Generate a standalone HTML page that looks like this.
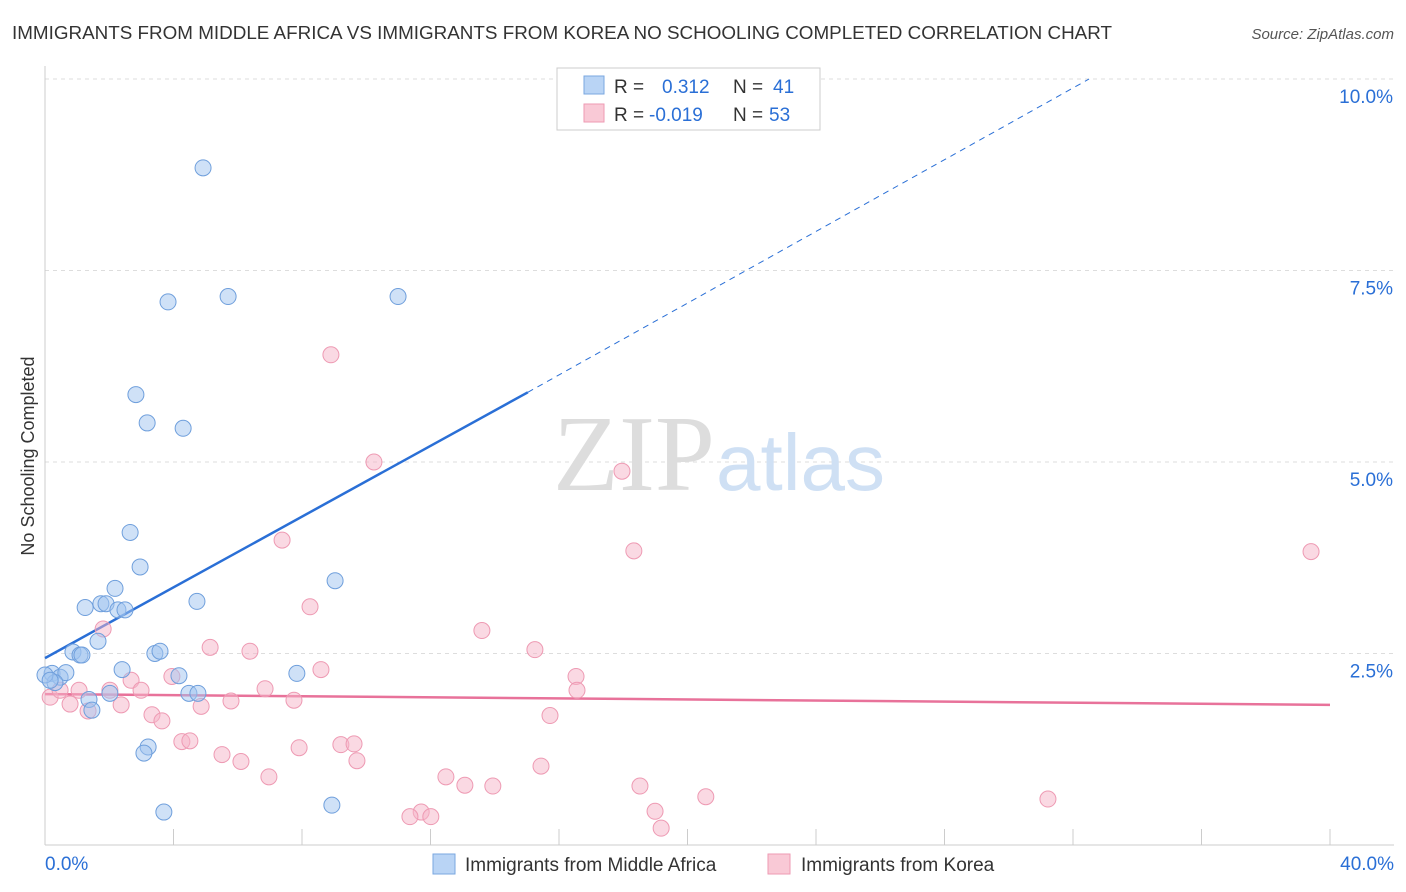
<!DOCTYPE html>
<html><head><meta charset="utf-8"><style>
body{margin:0;background:#fff;font-family:"Liberation Sans",sans-serif;}
svg{display:block}
</style></head><body>
<svg id="chart" width="1406" height="892">
<text x="12" y="39" font-size="18" fill="#333" textLength="1100" lengthAdjust="spacingAndGlyphs">IMMIGRANTS FROM MIDDLE AFRICA VS IMMIGRANTS FROM KOREA NO SCHOOLING COMPLETED CORRELATION CHART</text>
<text x="1394" y="39" font-size="15" fill="#555" font-style="italic" text-anchor="end">Source: ZipAtlas.com</text>
<text x="34" y="456" font-size="18" fill="#333" text-anchor="middle" transform="rotate(-90 34 456)">No Schooling Completed</text>
<g id="grid"></g>
<text x="715" y="490" font-size="108" fill="#ddd" text-anchor="end" font-family="Liberation Serif">ZIP</text>
<text x="716" y="490" font-size="80" fill="#cfe0f4">atlas</text>
<g id="lines"></g>
<g id="points"></g>
<g>
<rect x="557" y="68" width="263" height="62" fill="#fff" stroke="#ccc"/>
<rect x="584" y="76" width="20" height="18" fill="#b9d4f5" stroke="#7aa7e0"/>
<rect x="584" y="104" width="20" height="18" fill="#f9c9d6" stroke="#ee9ab3"/>
<text x="614" y="93" font-size="19" fill="#333">R = </text><text x="662" y="93" font-size="19" fill="#2a6fd6">0.312</text>
<text x="733" y="93" font-size="19" fill="#333">N = </text><text x="773" y="93" font-size="19" fill="#2a6fd6">41</text>
<text x="614" y="121" font-size="19" fill="#333">R = </text><text x="649" y="121" font-size="19" fill="#2a6fd6">-0.019</text>
<text x="733" y="121" font-size="19" fill="#333">N = </text><text x="769" y="121" font-size="19" fill="#2a6fd6">53</text>
</g>
<g>
<rect x="433" y="854" width="22" height="20" fill="#b9d4f5" stroke="#7aa7e0"/>
<text x="465" y="871" font-size="19" fill="#333">Immigrants from Middle Africa</text>
<rect x="768" y="854" width="22" height="20" fill="#f9c9d6" stroke="#ee9ab3"/>
<text x="801" y="871" font-size="19" fill="#333">Immigrants from Korea</text>
</g>
</svg>
<script>
const blueX=[4.92,3.83,5.70,10.99,2.83,3.18,4.30,2.65,2.96,2.18,1.25,1.74,1.90,2.27,2.49,4.73,9.03,0.87,1.09,1.15,1.65,3.42,3.58,2.40,4.17,7.84,0.22,0.47,0.65,0.31,0.0,2.02,1.37,1.46,4.48,4.76,3.21,3.08,3.70,8.93,0.16];
const blueY=[8.84,7.09,7.16,7.16,5.88,5.51,5.44,4.08,3.63,3.35,3.10,3.15,3.15,3.07,3.07,3.18,3.45,2.52,2.48,2.48,2.66,2.50,2.53,2.29,2.21,2.24,2.24,2.19,2.25,2.12,2.22,1.98,1.90,1.76,1.98,1.98,1.28,1.20,0.43,0.52,2.15];
const pinkX=[8.90,10.24,17.96,18.33,39.41,7.38,8.25,13.60,1.81,5.14,6.38,15.25,8.59,16.53,16.56,3.95,2.68,1.06,2.02,2.99,6.85,7.75,0.16,0.47,0.78,1.34,2.37,4.86,5.79,3.33,3.64,4.26,4.51,5.51,6.10,7.91,9.21,9.62,9.71,15.72,15.44,6.97,12.48,13.07,13.94,18.52,20.57,31.22,11.71,11.36,12.01,18.99,19.18];
const pinkY=[6.40,5.00,4.88,3.84,3.83,3.98,3.11,2.80,2.82,2.58,2.53,2.55,2.29,2.20,2.02,2.20,2.15,2.02,2.02,2.02,2.04,1.89,1.93,2.02,1.84,1.75,1.83,1.81,1.88,1.70,1.62,1.35,1.36,1.18,1.09,1.27,1.31,1.32,1.10,1.69,1.03,0.89,0.89,0.78,0.77,0.77,0.63,0.60,0.43,0.37,0.37,0.44,0.22];
const yTicks=[2.5,5.0,7.5,10.0];
const xs=v=>45+v*32.125, ys=v=>845-v*76.6;
const NS="http://www.w3.org/2000/svg";
function mk(tag,attrs,parent,text){const e=document.createElementNS(NS,tag);for(const k in attrs)e.setAttribute(k,attrs[k]);if(text!==undefined)e.textContent=text;document.getElementById(parent).appendChild(e);return e;}
yTicks.forEach(t=>{
 const l=mk('line',{x1:45,x2:1394,y1:ys(t),y2:ys(t),stroke:'#ddd','stroke-dasharray':'4,4'},'grid');
 
 
 const tx=mk('text',{x:1393,y:ys(t)+24,'font-size':19,fill:'#2a6fd6','text-anchor':'end'},'grid',t.toFixed(1)+'%');
 
 
});
mk('line',{x1:45,x2:45,y1:66,y2:845,stroke:'#ccc'},'grid');
mk('line',{x1:45,x2:1394,y1:845,y2:845,stroke:'#ccc'},'grid');
for(let i=0;i<=10;i++){mk('line',{x1:xs(i*4),x2:xs(i*4),y1:829,y2:845,stroke:'#ccc'},'grid');}
const x0=mk('text',{x:45,y:870,'font-size':19,fill:'#2a6fd6'},'grid','0.0%');


const x1=mk('text',{x:1394,y:870,'font-size':19,fill:'#2a6fd6','text-anchor':'end'},'grid','40.0%');


const bl=mk('line',{x1:xs(0),y1:ys(2.44),x2:xs(15.03),y2:ys(5.91),stroke:'#2a6fd6','stroke-width':2.5},'lines');


const bd=mk('line',{x1:xs(15.03),y1:ys(5.91),x2:xs(32.5),y2:ys(10.0),stroke:'#2a6fd6','stroke-width':1,'stroke-dasharray':'6,5'},'lines');


const pl=mk('line',{x1:xs(0),y1:ys(1.97),x2:xs(40),y2:ys(1.83),stroke:'#e8729a','stroke-width':2.5},'lines');


pinkX.forEach((v,i)=>{const c=mk('circle',{cx:xs(v),cy:ys(pinkY[i]),r:8,fill:'rgba(246,180,200,0.5)',stroke:'#ee9ab3','stroke-width':1},'points');
 
 });
blueX.forEach((v,i)=>{const c=mk('circle',{cx:xs(v),cy:ys(blueY[i]),r:8,fill:'rgba(160,196,240,0.5)',stroke:'#6f9fdc','stroke-width':1},'points');
 
 });
</script>
</body></html>
